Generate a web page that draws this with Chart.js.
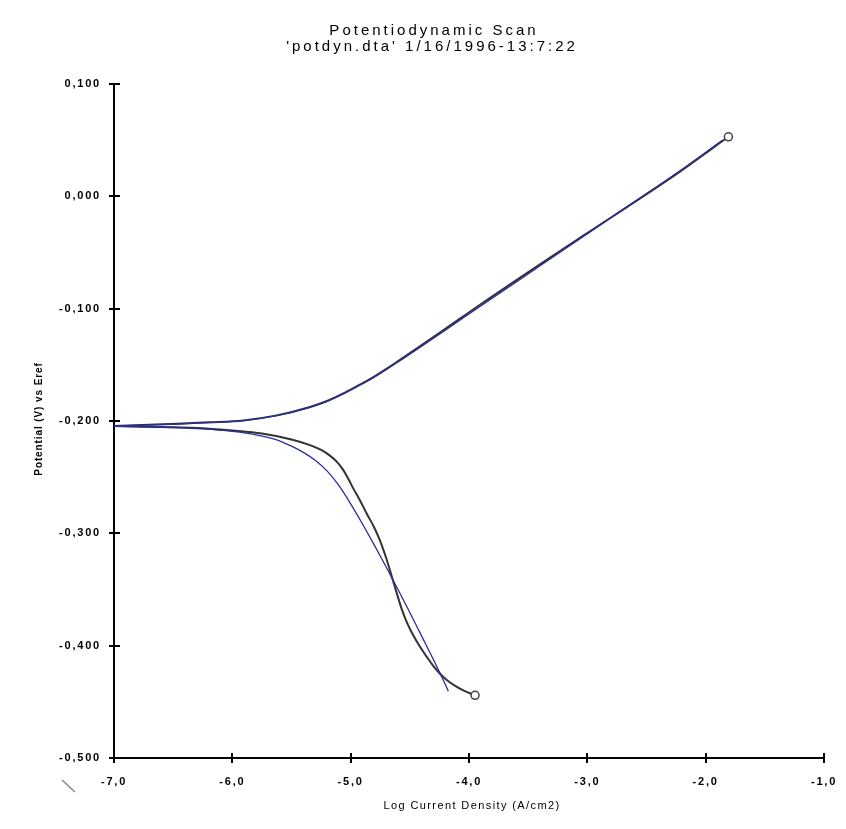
<!DOCTYPE html>
<html>
<head>
<meta charset="utf-8">
<script src="https://cdn.jsdelivr.net/npm/chart.js@4/dist/chart.umd.min.js"></script>
<style>
  html, body { margin: 0; padding: 0; background: #fff; }
  canvas { display: block; }
</style>
</head>
<body>
<canvas id="c" width="846" height="829"></canvas>
<script>
// ---- Data ----
const titleLines = ["Potentiodynamic Scan", "'potdyn.dta' 1/16/1996-13:7:22"];
const xAxisTitle = "Log Current Density (A/cm2)";
const yAxisTitle = "Potential (V) vs Eref";

const xTickValues = [-7, -6, -5, -4, -3, -2, -1];
const xTickLabels = ["-7,0", "-6,0", "-5,0", "-4,0", "-3,0", "-2,0", "-1,0"];
const yTickValues = [0.1, 0, -0.1, -0.2, -0.3, -0.4, -0.5];
const yTickLabels = ["0,100", "0,000", "-0,100", "-0,200", "-0,300", "-0,400", "-0,500"];

// measured curve (black), cathodic branch
const measCathX = [-7.0, -6.5, -6.25, -6.0, -5.75, -5.5, -5.344, -5.25, -5.175, -5.12, -5.062, -5.02, -4.978, -4.92, -4.864, -4.80, -4.752, -4.70, -4.668, -4.611, -4.57, -4.526, -4.47, -4.414, -4.35, -4.302, -4.245, -4.188, -4.12, -4.048, -3.949];
const measCathY = [-0.2045, -0.2055, -0.2065, -0.2085, -0.2112, -0.2165, -0.2215, -0.2258, -0.2308, -0.2360, -0.2437, -0.2515, -0.2600, -0.2710, -0.2825, -0.2950, -0.3065, -0.3220, -0.3330, -0.3530, -0.3670, -0.3790, -0.3910, -0.4010, -0.4110, -0.4180, -0.4250, -0.4305, -0.4355, -0.4398, -0.4442];
// measured curve (black), anodic branch
const measAnX = [-7.0, -6.47, -6.2, -5.907, -5.625, -5.344, -5.2, -5.062, -4.95, -4.837, -4.668, -4.583, -4.4, -4.2, -3.907, -3.343, -2.780, -2.217, -1.808];
const measAnY = [-0.2045, -0.2025, -0.2012, -0.1995, -0.1950, -0.1875, -0.1822, -0.1755, -0.1692, -0.1628, -0.1515, -0.1455, -0.1325, -0.1180, -0.0965, -0.0565, -0.0175, 0.0220, 0.0530];
// fitted curve (blue), cathodic branch
const fitCathX = [-7.0, -6.5, -6.25, -6.0, -5.8, -5.625, -5.5, -5.4, -5.3, -5.2, -5.1, -5.0, -4.9, -4.8, -4.7, -4.6, -4.5, -4.4, -4.3, -4.2, -4.175];
const fitCathY = [-0.2045, -0.2058, -0.2070, -0.2093, -0.2123, -0.2168, -0.2224, -0.2279, -0.2349, -0.2444, -0.2574, -0.2737, -0.2917, -0.3105, -0.3300, -0.3500, -0.3705, -0.3915, -0.4125, -0.4345, -0.4405];
// fitted curve (blue), anodic branch
const fitAnX = [-7.0, -6.47, -6.2, -5.907, -5.625, -5.344, -5.2, -5.062, -4.95, -4.837, -4.668, -4.583, -4.4, -4.2, -3.907, -3.343, -2.780, -2.217, -1.86];
const fitAnY = [-0.2045, -0.2027, -0.2014, -0.1997, -0.1953, -0.1878, -0.1825, -0.1758, -0.1696, -0.1633, -0.1522, -0.1463, -0.1335, -0.1192, -0.0980, -0.0578, -0.0175, 0.0228, 0.0500];

function pts(xs, ys) { return xs.map((x, i) => ({ x: x, y: ys[i] })); }

const FONT = "'Liberation Sans', Arial, sans-serif";
const endMarker = (ctx) => (ctx.dataIndex === ctx.dataset.data.length - 1 ? 4 : 0);

const textPlugin = {
  id: 'texts',
  beforeUpdate(chart) { chart.ctx.letterSpacing = '1.8px'; },
  beforeDraw(chart) { chart.ctx.letterSpacing = '1.8px'; },
  afterDraw(chart) {
    const ctx = chart.ctx;
    const a = chart.chartArea;
    const xs = chart.scales.x, ys = chart.scales.y;
    ctx.save();
    // inner halves of the crossing tick marks
    ctx.strokeStyle = '#000';
    ctx.lineWidth = 2;
    ctx.beginPath();
    xTickValues.forEach(v => {
      const px = Math.round(xs.getPixelForValue(v));
      ctx.moveTo(px, a.bottom); ctx.lineTo(px, a.bottom - 5);
    });
    yTickValues.forEach(v => {
      const py = Math.round(ys.getPixelForValue(v));
      ctx.moveTo(a.left, py); ctx.lineTo(a.left + 6, py);
    });
    ctx.stroke();
    // small stray slash at the lower-left corner
    ctx.strokeStyle = '#888';
    ctx.lineWidth = 1.5;
    ctx.beginPath();
    ctx.moveTo(62, 780); ctx.lineTo(75, 792);
    ctx.stroke();

    ctx.fillStyle = '#000';
    ctx.textAlign = 'center';
    ctx.textBaseline = 'middle';
    // title
    ctx.letterSpacing = '3px';
    ctx.font = '15px ' + FONT;
    ctx.fillText(titleLines[0], 434, 31);
    ctx.fillText(titleLines[1], 432, 47);
    // x axis title
    ctx.letterSpacing = '1.4px';
    ctx.font = '11px ' + FONT;
    ctx.fillText(xAxisTitle, 472, 806);
    // y axis title
    ctx.letterSpacing = '0.9px';
    ctx.font = 'bold 10px ' + FONT;
    ctx.translate(39, 419);
    ctx.rotate(-Math.PI / 2);
    ctx.fillText(yAxisTitle, 0, 0);
    ctx.restore();
  }
};

const lineCommon = { showLine: true, cubicInterpolationMode: 'monotone' };

new Chart(document.getElementById('c'), {
  type: 'scatter',
  data: {
    datasets: [
      Object.assign({ label: 'Fit cathodic', data: pts(fitCathX, fitCathY), borderColor: '#2d2d9c', borderWidth: 1.3, pointRadius: 0, order: 0 }, lineCommon),
      Object.assign({ label: 'Fit anodic', data: pts(fitAnX, fitAnY), borderColor: '#2d2d9c', borderWidth: 1.3, pointRadius: 0, order: 0 }, lineCommon),
      Object.assign({ label: 'Measured cathodic', data: pts(measCathX, measCathY), borderColor: '#333333', borderWidth: 2, order: 1,
        pointRadius: endMarker, pointHoverRadius: endMarker, pointBackgroundColor: '#fff', pointBorderColor: '#444', pointBorderWidth: 1.5 }, lineCommon),
      Object.assign({ label: 'Measured anodic', data: pts(measAnX, measAnY), borderColor: '#333333', borderWidth: 2, order: 1,
        pointRadius: endMarker, pointHoverRadius: endMarker, pointBackgroundColor: '#fff', pointBorderColor: '#444', pointBorderWidth: 1.5 }, lineCommon)
    ]
  },
  options: {
    responsive: false,
    animation: false,
    devicePixelRatio: 1,
    layout: { padding: { left: 0, right: 22, top: 84, bottom: 0 } },
    plugins: { legend: { display: false }, tooltip: { enabled: false }, title: { display: false } },
    scales: {
      x: {
        type: 'linear', min: -7, max: -1,
        afterBuildTicks: (s) => { s.ticks = xTickValues.map(v => ({ value: v })); },
        afterFit: (s) => { s.height = 71; s.paddingLeft = 0; s.paddingRight = 0; },
        border: { display: true, color: '#000', width: 2 },
        grid: { drawOnChartArea: false, drawTicks: true, tickLength: 5, color: '#000', lineWidth: 2 },
        ticks: {
          color: '#000', padding: 12, maxRotation: 0,
          font: { family: FONT, size: 11, weight: 'bold' },
          callback: (v) => { const i = xTickValues.indexOf(v); return i >= 0 ? xTickLabels[i] : ''; }
        }
      },
      y: {
        type: 'linear', min: -0.5, max: 0.1,
        afterBuildTicks: (s) => { s.ticks = yTickValues.map(v => ({ value: v })); },
        afterFit: (s) => { s.width = 114; s.paddingTop = 0; s.paddingBottom = 0; },
        border: { display: true, color: '#000', width: 2 },
        grid: { drawOnChartArea: false, drawTicks: true, tickLength: 5, color: '#000', lineWidth: 2 },
        ticks: {
          color: '#000', padding: 8,
          font: { family: FONT, size: 11, weight: 'bold' },
          callback: (v) => { const i = yTickValues.indexOf(v); return i >= 0 ? yTickLabels[i] : ''; }
        }
      }
    }
  },
  plugins: [textPlugin]
});
</script>
</body>
</html>
